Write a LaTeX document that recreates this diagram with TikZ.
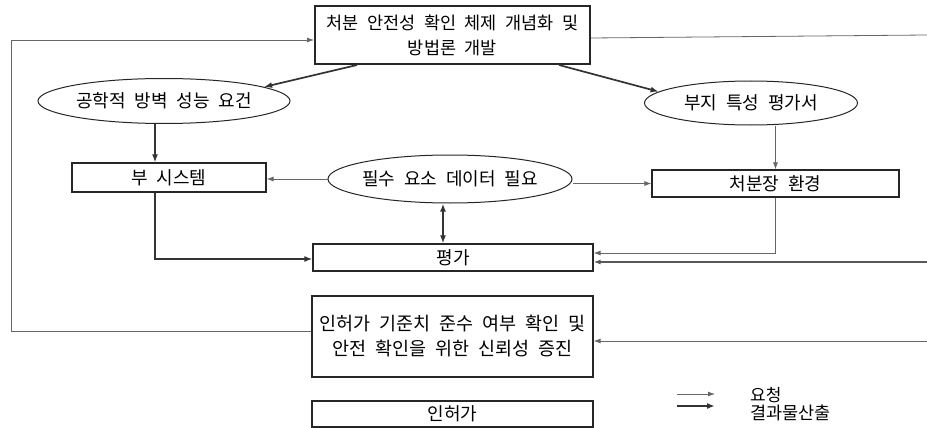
\documentclass[tikz,border=0pt]{standalone}
\usepackage{fontspec}
\setmainfont[WordSpace=2.2]{Noto Sans CJK KR}
\usetikzlibrary{shapes.geometric,arrows.meta,calc}
\begin{document}
\begin{tikzpicture}[x=1pt,y=-1pt,
 every node/.style={font=\fontsize{18}{25}\selectfont, inner sep=0pt},
 boxnode/.style={draw=black!85, line width=1.2pt, rectangle, align=center},
 ellnode/.style={draw=black!85, line width=1pt, ellipse},
 req/.style={draw=black!60, line width=0.8pt, -{Latex[length=7pt,width=5pt]}},
 mid/.style={draw=black!65, line width=1.3pt, -{Latex[length=7pt,width=5pt]}},
 res/.style={draw=black!80, line width=1.7pt, -{Latex[length=8pt,width=6pt]}},
 twoline/.style={font=\fontsize{17.5}{25}\selectfont}]
\useasboundingbox (0,0) rectangle (927,428);

% nodes
\node[boxnode, twoline, line width=2pt, minimum width=275pt, minimum height=58pt] (top) at (452.5,35) {처분 안전성 확인 체제 개념화 및\\방법론 개발};
\node[ellnode, minimum width=252pt, minimum height=45pt, label=center:{공학적 방벽 성능 요건}] (eng) at (164,101) {};
\node[ellnode, minimum width=213pt, minimum height=44pt, label=center:{부지 특성 평가서}] (site) at (751,103) {};
\node[boxnode, minimum width=194pt, minimum height=29pt] (sub) at (169,177.5) {부 시스템};
\node[ellnode, minimum width=244pt, minimum height=48pt, label=center:{필수 요소 데이터 필요}] (need) at (450,179) {};
\node[boxnode, minimum width=247pt, minimum height=27pt] (env) at (775.5,183.5) {처분장 환경};
\node[boxnode, minimum width=280pt, minimum height=27pt] (eval) at (453,257.5) {평가};
\node[boxnode, font=\fontsize{18.5}{25}\selectfont, minimum width=281pt, minimum height=81pt] (lic) at (452.5,336.5) {인허가 기준치 준수 여부 확인 및\\안전 확인을 위한 신뢰성 증진};
\node[boxnode, minimum width=281pt, minimum height=26pt] (perm) at (452.5,414) {인허가};

% free ends at the right edge
\coordinate (redge) at (927,0);
\coordinate (r2) at (927,262);
\coordinate (r3) at (927,341);

% connectors
\draw[res] ($(top.south west)+(43,0)$) -- (eng.8);
\draw[res] ($(top.south west)+(245,0)$) -- (site.173.6);
\draw[res] ([xshift=-9pt]eng.south) -- ([xshift=-14pt]sub.north);
\draw[req] (site.south -| env.north) -- (env.north);
\draw[req] (need.west) -- (need.west -| sub.east);
\draw[req] (need.east |- env.west) -- (env.west);
\draw[res, {Latex[length=8pt,width=6pt]}-{Latex[length=8pt,width=6pt]}] ([xshift=-7pt]need.south) -- ([xshift=-10pt]eval.north);
\draw[res] ([xshift=-14pt]sub.south) |- ([yshift=-1.5pt]eval.west);
\draw[req] (env.south) |- ([yshift=4.5pt]eval.east);
\draw[mid] (r2) -- ([yshift=-4.5pt]eval.east);
\draw[req] (r3) -- ([yshift=-4.5pt]lic.east);
\draw[req, -] ([yshift=-3pt]top.east) -- (top.east -| redge);
\draw[req] ([yshift=5.5pt]lic.west) -- ++(-300pt,0) |- ([yshift=-5pt]top.west);

% legend
\coordinate (la1) at (677,394);
\coordinate (lb1) at (715,394);
\coordinate (la2) at (677,406);
\coordinate (lb2) at (715,406);
\draw[req] (la1) -- (lb1);
\draw[res] (la2) -- (lb2);
\node[anchor=west, font=\fontsize{17}{18}\selectfont] (lg1) at (750,395) {요청};
\node[anchor=west, font=\fontsize{17.5}{18}\selectfont] (lg2) at (750,413) {결과물산출};
\end{tikzpicture}
\end{document}
